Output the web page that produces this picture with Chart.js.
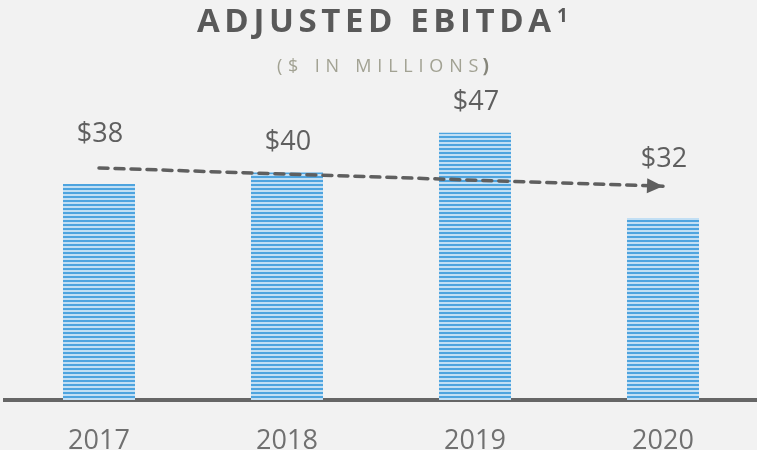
<!DOCTYPE html>
<html>
<head>
<meta charset="utf-8">
<script src="https://cdn.jsdelivr.net/npm/chart.js@4.4.1/dist/chart.umd.min.js"></script>
<style>
    html, body { margin: 0; padding: 0; background: #f2f2f2; overflow: hidden; }
    #contenitore { position: relative; width: 757px; height: 450px; }
</style>
</head>
<body>
<div id="contenitore"><canvas id="grafico"></canvas></div>
<script>
// dati
const anni = ['2017', '2018', '2019', '2020'];
const ebitda = [38, 40, 47, 32];
const etichetteValori = ['$38', '$40', '$47', '$32'];
const tendenza = [40.8, null, null, 37.6]; // freccia tratteggiata
const titolo = 'ADJUSTED EBITDA';
const apice = '1';
const sottotitolo = '($ IN MILLIONS';
const chiusura = ')';

// motivo a righe orizzontali per le barre
function creaRighe() {
    const c = document.createElement('canvas');
    c.width = 4; c.height = 4;
    const g = c.getContext('2d');
    g.fillStyle = '#c2dff4';
    g.fillRect(0, 0, 4, 4);
    g.fillStyle = '#4ea4df';
    g.fillRect(0, 0, 4, 2);
    return g.createPattern(c, 'repeat');
}

// scrive un testo lettera per lettera con spaziatura extra
function testoSpaziato(ctx, testo, x, y, spazio) {
    for (const c of testo) {
        ctx.fillText(c, x, y);
        x += ctx.measureText(c).width + spazio;
    }
    return x - spazio;
}

const pluginTitoli = {
    id: 'titoli',
    afterDraw: (chart) => {
        const ctx = chart.ctx;
        ctx.save();
        ctx.textBaseline = 'alphabetic';
        ctx.textAlign = 'left';
        ctx.fillStyle = '#595959';
        ctx.font = 'bold 33px "Open Sans"';
        let fine = testoSpaziato(ctx, titolo, 197, 32, 4.6);
        ctx.font = 'bold 19px "Open Sans"';
        ctx.fillText(apice, fine + 6, 22);

        ctx.fillStyle = '#a2a293';
        ctx.font = '18px "Open Sans"';
        fine = testoSpaziato(ctx, sottotitolo, 277, 72, 5.8);
        ctx.fillStyle = '#85857a';
        ctx.font = 'bold 19px "Open Sans"';
        ctx.fillText(chiusura, fine + 4, 72);
        ctx.restore();
    }
};

const pluginEtichette = {
    id: 'etichetteValori',
    afterDatasetsDraw: (chart, args, opts) => {
        const ctx = chart.ctx;
        const meta = chart.getDatasetMeta(1);
        ctx.save();
        ctx.font = '27px "Open Sans"';
        ctx.fillStyle = '#5f5f5f';
        ctx.textAlign = 'center';
        ctx.textBaseline = 'middle';
        meta.data.forEach((barra, i) => {
            ctx.fillText(etichetteValori[i], barra.x + 1, barra.y - opts.stacco[i]);
        });
        ctx.restore();
    }
};

const pluginFreccia = {
    id: 'punta',
    afterDatasetsDraw: (chart) => {
        const punti = chart.getDatasetMeta(0).data;
        const a = punti[0], b = punti[punti.length - 1];
        const ang = Math.atan2(b.y - a.y, b.x - a.x);
        const ctx = chart.ctx;
        ctx.save();
        ctx.translate(b.x, b.y);
        ctx.rotate(ang);
        ctx.fillStyle = '#5f5f5f';
        ctx.beginPath();
        ctx.moveTo(0, 0);
        ctx.lineTo(-16, -7.5);
        ctx.lineTo(-16, 7.5);
        ctx.closePath();
        ctx.fill();
        ctx.restore();
    }
};

const canvas = document.getElementById('grafico');

new Chart(canvas, {
    data: {
        labels: anni,
        datasets: [
            {
                type: 'line',
                data: tendenza,
                borderColor: '#5f5f5f',
                borderWidth: 3.5,
                borderDash: [9, 7],
                borderCapStyle: 'round',
                pointRadius: 0,
                spanGaps: true,
                order: 0
            },
            {
                type: 'bar',
                data: ebitda,
                backgroundColor: creaRighe(),
                borderWidth: 0,
                barPercentage: 0.383,
                categoryPercentage: 1,
                order: 1
            }
        ]
    },
    options: {
        responsive: true,
        maintainAspectRatio: false,
        animation: false,
        layout: { padding: { left: 5, right: -2, top: 2, bottom: 0 } },
        plugins: {
            legend: { display: false },
            tooltip: { enabled: false },
            etichetteValori: { stacco: [50, 30, 30, 59] }
        },
        scales: {
            x: {
                z: 1,
                grid: { display: false },
                border: { color: '#666666', width: 4 },
                ticks: {
                    color: '#707070',
                    padding: 17,
                    font: { family: 'Open Sans', size: 27 }
                },
                afterFit: (scala) => { scala.height = 50; }
            },
            y: { display: false, min: 0, max: 70 }
        }
    },
    plugins: [pluginTitoli, pluginEtichette, pluginFreccia]
});
</script>
</body>
</html>
